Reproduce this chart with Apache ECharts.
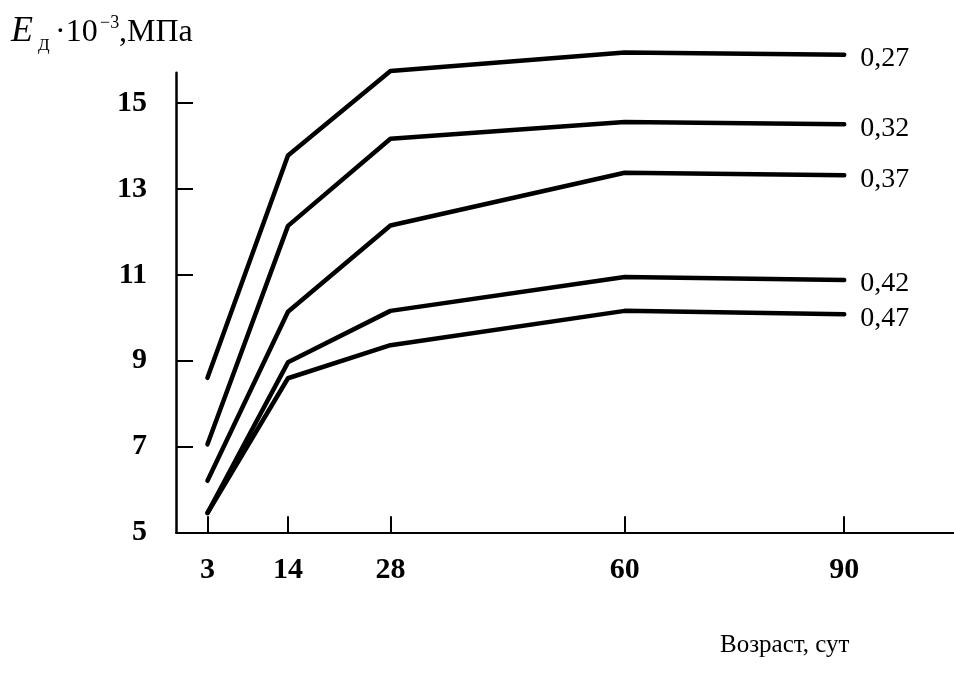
<!DOCTYPE html>
<html>
<head>
<meta charset="utf-8">
<script src="https://cdn.jsdelivr.net/npm/echarts@6/dist/echarts.min.js"></script>
<style>
  html, body { margin: 0; padding: 0; background: #fff; }
  #chart { width: 954px; height: 673px; }
</style>
</head>
<body>
<div id="chart"></div>
<script>
// Age of concrete, days
const ages = [3, 14, 28, 60, 90];
// Water-cement ratio of each curve
const ratios = ['0,27', '0,32', '0,37', '0,42', '0,47'];
// Dynamic modulus E·10^-3, MPa, per curve
const e027 = [8.6, 13.78, 15.75, 16.18, 16.13];
const e032 = [7.05, 12.14, 14.17, 14.56, 14.51];
const e037 = [6.2, 10.14, 12.15, 13.38, 13.32];
const e042 = [5.45, 8.96, 10.16, 10.95, 10.88];
const e047 = [5.45, 8.59, 9.36, 10.16, 10.08];
const yTicks = [5, 7, 9, 11, 13, 15];

const curves = [e027, e032, e037, e042, e047];
const serif = 'Liberation Serif';

const chart = echarts.init(document.getElementById('chart'), null, { renderer: 'canvas' });

const series = curves.map((vals, i) => ({
  name: ratios[i],
  type: 'line',
  data: ages.map((a, j) => [a, vals[j]]),
  symbol: 'none',
  silent: true,
  clip: false,
  lineStyle: { color: '#000', width: 4.5, join: 'round', cap: 'round' },
  endLabel: {
    show: true,
    formatter: '{a}',
    color: '#000',
    fontFamily: serif,
    fontSize: 28,
    distance: 16,
    offset: [0, 4]
  }
}));

chart.setOption({
  animation: false,
  backgroundColor: '#fff',
  grid: { left: 176, right: 0, top: 72.7, bottom: 140.7, containLabel: false, outerBoundsMode: 'none' },
  xAxis: {
    type: 'value',
    min: -1.3,
    max: 105,
    splitLine: { show: false },
    axisLine: { show: true, onZero: false, lineStyle: { color: '#000', width: 2 } },
    axisTick: { show: true, inside: true, length: 16, customValues: ages, lineStyle: { color: '#000', width: 2 } },
    axisLabel: { customValues: ages, margin: 23, color: '#000', fontFamily: serif, fontSize: 30, fontWeight: 'bold' }
  },
  yAxis: {
    type: 'value',
    min: 5,
    max: 15.71,
    splitLine: { show: false },
    axisLine: { show: true, onZero: false, lineStyle: { color: '#000', width: 2.5 } },
    axisTick: { show: true, inside: true, length: 17, customValues: yTicks, lineStyle: { color: '#000', width: 2 } },
    axisLabel: { customValues: yTicks, margin: 29, color: '#000', fontFamily: serif, fontSize: 30, fontWeight: 'bold' }
  },
  graphic: [
    { type: 'text', left: 11, top: 14, style: { text: 'E', font: 'italic 36px "Liberation Serif"', fill: '#000' } },
    { type: 'text', left: 38, top: 37, style: { text: 'Д', font: '17px "Liberation Serif"', fill: '#000' } },
    { type: 'text', left: 55, top: 17, style: { text: '·10', font: '32px "Liberation Serif"', fill: '#000' } },
    { type: 'text', left: 100, top: 14, style: { text: '−3', font: '18px "Liberation Serif"', fill: '#000' } },
    { type: 'text', left: 119, top: 17, style: { text: ',МПа', font: '32px "Liberation Serif"', fill: '#000' } },
    { type: 'text', left: 720, top: 633, style: { text: 'Возраст, сут', font: '25px "Liberation Serif"', fill: '#000' } }
  ],
  series: series
});
</script>
</body>
</html>
